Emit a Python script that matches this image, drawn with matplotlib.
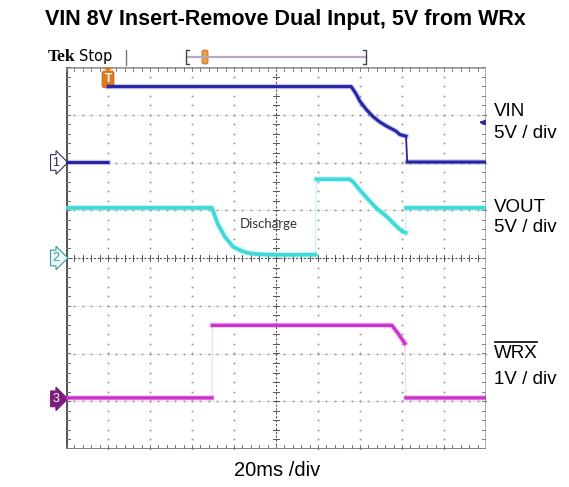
import numpy as np
import matplotlib
matplotlib.use("Agg")
import matplotlib.pyplot as plt
from matplotlib.lines import Line2D
from matplotlib.patches import FancyBboxPatch, Polygon

# ---------------- data (read from the scope shot) ----------------
# time in ms, 20 ms/div, 10 divisions
vin_t = [0, 20.0, 20.2, 135.8, 138.1, 140.0, 143.0, 146.2, 149.5, 152.7, 157.1,
         159.0, 161.9, 162.5, 200]
vin_v = [0.0, 0.0, 7.95, 7.95, 7.2, 6.4, 5.55, 4.8, 4.23, 3.8, 3.29,
         2.92, 2.76, 0.05, 0.05]

vout_t = [0, 69.5, 70.5, 72.4, 75.7, 79.5, 83.0, 86.2, 90.0, 95.7, 105.0, 118.8,
          119.2, 135.2, 137.2, 139.2, 143.2, 147.9, 152.7, 157.5, 160.0, 161.7, 162.0, 200]
vout_v = [5.25, 5.25, 4.6, 3.5, 2.2, 1.2, 0.8, 0.55, 0.42, 0.35, 0.33, 0.35,
          8.25, 8.25, 7.85, 7.3, 6.3, 5.2, 4.35, 3.3, 2.8, 2.65, 5.25, 5.25]

wrx_t = [0, 69.5, 69.7, 155.2, 158.3, 161.4, 161.9, 200]
wrx_v = [0.02, 0.02, 1.54, 1.54, 1.36, 1.16, 0.02, 0.02]

# channel settings: (volts/div, ground position in div)
ch_scale = {"VIN": (5.0, 2.0), "VOUT": (5.0, 0.0), "WRX": (1.0, -2.95)}
time_per_div = 20.0

W, H = 569, 487
fig = plt.figure(figsize=(W / 100, H / 100), dpi=100)
fig.patch.set_facecolor("white")

def fx(px):
    return px / W

def fy(py):
    return 1 - py / H

L, R, T, B = 66, 486, 67, 449
pos = [fx(L), fy(B), (R - L) / W, (B - T) / H]

# ---------------- graticule axes (division units) ----------------
g = fig.add_axes(pos)
g.set_xlim(0, 10)
g.set_ylim(-4, 4)
g.set_xticks([]); g.set_yticks([])
for s in g.spines.values():
    s.set_visible(False)
g.patch.set_alpha(0)

gridc = "#909090"
ys = np.arange(-4, 4.001, 0.2)
xs = np.arange(0, 10.001, 0.2)
for xi in range(1, 10):
    if xi == 5:
        continue
    g.plot([xi] * len(ys), ys, ls="none", marker="s", ms=1.2, mfc=gridc, mec="none")
for yi in range(-3, 4):
    if yi == 0:
        continue
    g.plot([0, 10], [yi, yi], color="#d0d0d0", lw=0.7, ls=(0, (1, 1.5)))
    g.plot(xs, [yi] * len(xs), ls="none", marker="s", ms=1.2, mfc=gridc, mec="none")

# centre cross with ticks
g.plot([0, 10], [0, 0], color="#555555", lw=0.8, ls=(0, (2, 1.5)))
g.plot([5, 5], [-4, 4], color="#555555", lw=0.8, ls=(0, (2, 1.5)))
for x in xs:
    g.plot([x, x], [-0.06, 0.06], color="#555555", lw=0.7)
for y in ys:
    g.plot([4.93, 5.07], [y, y], color="#555555", lw=0.7)

# border with ticks
g.plot([0, 0], [-4, 4], color="#555555", lw=2.2, solid_capstyle="butt")
g.plot([0, 10], [4, 4], color="#9a9a9a", lw=2.6, solid_capstyle="butt")
g.plot([10, 10], [-4, 4], color="#a0a0a0", lw=1.2)
g.plot([0, 10], [-4, -4], color="#808080", lw=1.4)
for x in xs:
    g.plot([x, x], [-4, -3.92], color="#707070", lw=0.7)
    g.plot([x, x], [3.92, 4], color="#808080", lw=0.7)
for y in ys:
    g.plot([0, 0.1], [y, y], color="#707070", lw=0.7)
    g.plot([9.9, 10], [y, y], color="#808080", lw=0.7)

# ---------------- traces, one axes per channel ----------------
def chan_axes(name):
    vdiv, gnd = ch_scale[name]
    a = fig.add_axes(pos)
    a.set_xlim(0, 10 * time_per_div)
    a.set_ylim((-4 - gnd) * vdiv, (4 - gnd) * vdiv)
    a.axis("off")
    a.patch.set_alpha(0)
    return a

def draw(a, t, v, color, lw=2.4, faint=0.25):
    t = np.asarray(t, float); v = np.asarray(v, float)
    if faint > 0:
        a.plot(t, v, color=color, lw=0.9, alpha=faint, solid_capstyle="butt")
    vr = (a.get_ylim()[1] - a.get_ylim()[0]) / 8.0
    tt, vv = [t[0]], [v[0]]
    for i in range(1, len(t)):
        if (t[i] - t[i - 1]) < 0.7 and abs(v[i] - v[i - 1]) > 0.5 * vr:
            tt.append(np.nan); vv.append(np.nan)
        tt.append(t[i]); vv.append(v[i])
    a.plot(tt, vv, color=color, lw=lw + 1.6, alpha=0.25, solid_joinstyle="round")
    a.plot(tt, vv, color=color, lw=lw, solid_joinstyle="round")

a_vin = chan_axes("VIN")
a_vout = chan_axes("VOUT")
a_wrx = chan_axes("WRX")
draw(a_wrx, wrx_t, wrx_v, "#cc33cc", faint=0.18)
draw(a_vout, vout_t, vout_v, "#3fd9d9", lw=2.6, faint=0.3)
draw(a_vin, vin_t, vin_v, "#2626a6", lw=2.2, faint=0)
# the VIN falling edge is visible in the capture
a_vin.plot(vin_t[-3:-1], vin_v[-3:-1], color="#2626a6", lw=1.3)

# trigger level marker (right side)
a_vin.annotate("", xy=(195.5, 4.2), xytext=(199.5, 4.2),
               arrowprops=dict(arrowstyle="-|>", color="#2626a6", lw=1.2,
                               mutation_scale=7), annotation_clip=False)

# Discharge label
g.text(4.82, 0.72, "Discharge", fontsize=9.5, family=["Lato", "DejaVu Sans"],
       color="#333333", ha="center", va="center")

# channel markers
mk = dict(fontsize=9, ha="center", va="center", family=["Liberation Sans"], clip_on=False)
g.text(-0.24, 2.0, "1", color="#222266",
       bbox=dict(boxstyle="rarrow,pad=0.15", fc="white", ec="#333366", lw=0.8), **mk)
g.text(-0.24, 0.0, "2", color="#3a9a9a",
       bbox=dict(boxstyle="rarrow,pad=0.15", fc="#eefafa", ec="#3a9a9a", lw=0.8), **mk)
g.text(-0.24, -2.95, "3", color="white",
       bbox=dict(boxstyle="rarrow,pad=0.15", fc="#7d1d7d", ec="#7d1d7d", lw=0.8), **mk)

# trigger position marker "T"
g.text(1.0, 3.74, "T", fontsize=8.5, color="white", ha="center", va="center",
       family=["Liberation Sans"], fontweight="bold", zorder=10,
       bbox=dict(boxstyle="round,pad=0.2", fc="#e07a20", ec="#c06010", lw=0.6))
g.add_patch(Polygon([[0.88, 3.99], [1.12, 3.99], [1.0, 3.9]], closed=True,
                    fc="#e07a20", ec="none", clip_on=False, zorder=10))

# ---------------- header: Tek Stop and record bar ----------------
fig.text(fx(48), fy(57), "Tek", fontsize=12.5, fontweight="bold",
         family=["Liberation Serif"], va="center", ha="left")
fig.text(fx(79), fy(56), "Stop", fontsize=10.5, family=["DejaVu Sans"],
         va="center", ha="left")
fig.add_artist(Line2D([fx(126), fx(126)], [fy(50), fy(65)], color="#777777", lw=1))
fig.add_artist(Line2D([fx(187), fx(366)], [fy(57), fy(57)], color="#b8a8c8", lw=1.6))
for xb, d in [(186, 1), (366, -1)]:
    fig.add_artist(Line2D([fx(xb + 3 * d), fx(xb), fx(xb), fx(xb + 3 * d)],
                          [fy(50), fy(50), fy(64), fy(64)], color="#444444", lw=1))
fig.add_artist(FancyBboxPatch((fx(202), fy(64)), fx(6), (14 / H),
                              boxstyle="round,pad=0.0,rounding_size=0.004",
                              fc="#e8a040", ec="#c07020", lw=0.6))

# ---------------- titles / labels ----------------
fig.text(fx(285), fy(20), "VIN 8V Insert-Remove Dual Input, 5V from WRx",
         fontsize=15.5, fontweight="bold", family=["Liberation Sans"],
         ha="center", va="center")
lab = dict(fontsize=13.5, family=["Liberation Sans"], ha="left", va="center")
fig.text(fx(494), fy(111), "VIN", **lab)
fig.text(fx(494), fy(133), "5V / div", **lab)
fig.text(fx(494), fy(207), "VOUT", **lab)
fig.text(fx(494), fy(228), "5V / div", **lab)
t_wrx = fig.text(fx(494), fy(354), "WRX", **lab)
fig.text(fx(494), fy(380), "1V / div", **lab)
fig.text(fx(277), fy(471), "20ms /div", fontsize=14.5, family=["Liberation Sans"],
         ha="center", va="center")

fig.canvas.draw()
bb = t_wrx.get_window_extent()
fig.add_artist(Line2D([bb.x0 / W + 0.001, bb.x1 / W - 0.001],
                      [fy(342), fy(342)], color="black", lw=1.2))

fig.savefig("out.png", dpi=100, facecolor="white")
